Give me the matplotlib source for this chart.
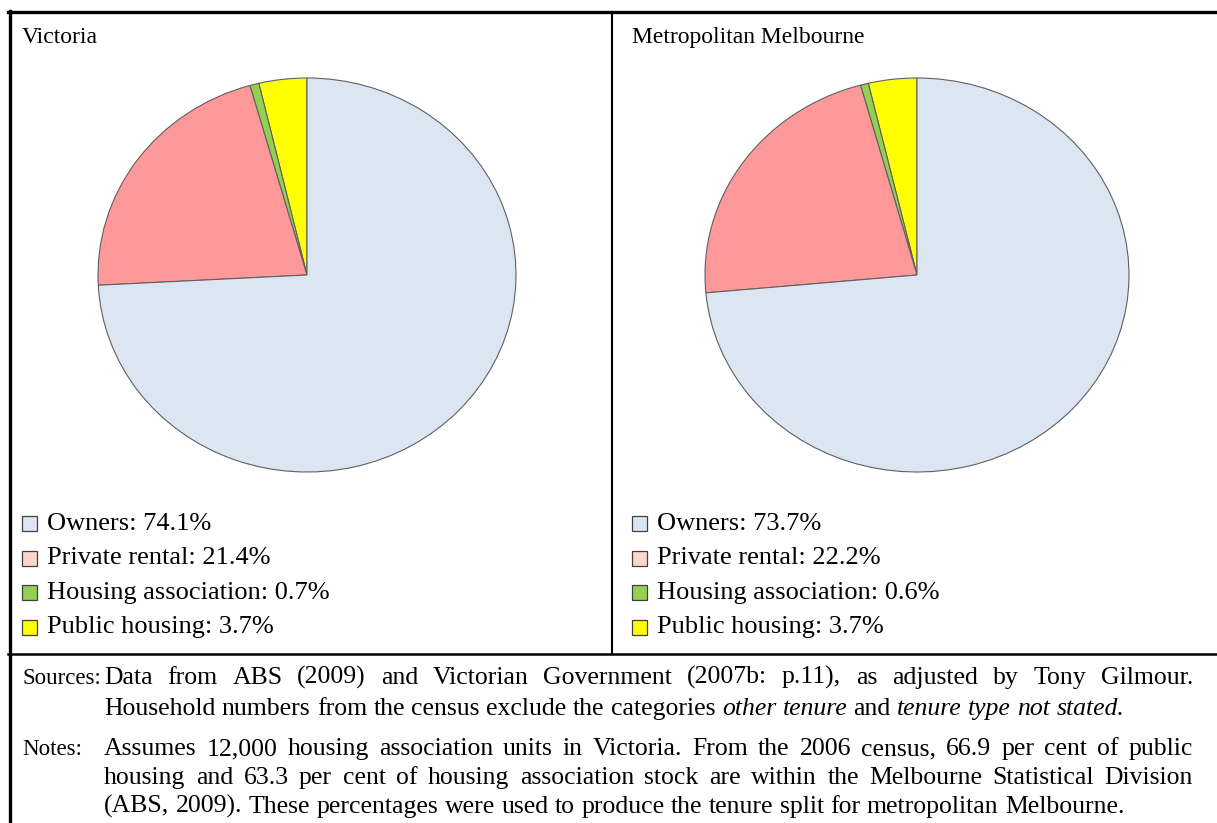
import matplotlib
matplotlib.use("Agg")
import matplotlib.pyplot as plt
from matplotlib.patches import Rectangle
from matplotlib.lines import Line2D

# housing tenure shares (per cent)
labels = ["Owners", "Private rental", "Housing association", "Public housing"]
vic_share = [74.1, 21.4, 0.7, 3.7]
metro_share = [73.7, 22.2, 0.6, 3.7]
panel_titles = ["Victoria", "Metropolitan Melbourne"]

pie_colors = ["#DCE6F2", "#FF9999", "#92D050", "#FFFF00"]
key_colors = ["#DCE6F2", "#FCD5D0", "#92D050", "#FFFF00"]

# notes text, words starting with _ are italic
sources_lines = [
    "Data from ABS (2009) and Victorian Government (2007b: p.11), as adjusted by Tony Gilmour.",
    "Household numbers from the census exclude the categories _other _tenure and _tenure _type _not _stated.",
]
notes_lines = [
    "Assumes 12,000 housing association units in Victoria. From the 2006 census, 66.9 per cent of public",
    "housing and 63.3 per cent of housing association stock are within the Melbourne Statistical Division",
    "(ABS, 2009). These percentages were used to produce the tenure split for metropolitan Melbourne.",
]

W, H = 1217, 823
SERIF = "Liberation Serif"
fig = plt.figure(figsize=(W / 100, H / 100), dpi=100)


def fx(x):
    return x / W


def fy(y):
    return 1 - y / H


def hline(x0, x1, y, lw):
    fig.add_artist(Line2D([fx(x0), fx(x1)], [fy(y), fy(y)], color="black", lw=lw))


def vline(x, y0, y1, lw):
    fig.add_artist(Line2D([fx(x), fx(x)], [fy(y0), fy(y1)], color="black", lw=lw))


# frame lines
div_y = 654
hline(8, W, 12, 2.4)
vline(9.5, 11, H, 2.4)
vline(612, 12, div_y, 1.5)
hline(8, W, div_y, 1.8)

# pies
centers = [(307, 275), (917, 275)]
radii = [(209, 197), (212, 197)]
for (cx, cy), (rx, ry), share in zip(centers, radii, [vic_share, metro_share]):
    ax = fig.add_axes([fx(cx - rx), fy(cy + ry), 2 * rx / W, 2 * ry / H])
    ax.pie(share[::-1], colors=pie_colors[::-1], startangle=90, counterclock=True,
           wedgeprops=dict(edgecolor="#606060", linewidth=0.8))
    ax.set_aspect("auto")
    ax.set_xlim(-1, 1)
    ax.set_ylim(-1, 1)
    ax.axis("off")

# panel titles and keys
for px, title, share in zip([22, 632], panel_titles, [vic_share, metro_share]):
    fig.text(fx(px), fy(43), title, fontsize=17, family=SERIF, va="baseline")
    for i, (lab, val, col) in enumerate(zip(labels, share, key_colors)):
        base = 530 + i * 34.5
        fig.add_artist(Rectangle((fx(px), fy(base + 1)), 15 / W, 15 / H, facecolor=col,
                                 edgecolor="#404040", lw=0.9))
        fig.text(fx(px + 25), fy(base), f"{lab}: {val}%", fontsize=19, family=SERIF, va="baseline")

renderer = fig.canvas.get_renderer()


def draw_line(line, x0, y, size, width=None):
    arts = []
    for w in line.split(" "):
        it = w.startswith("_")
        t = fig.text(fx(x0), fy(y), w.lstrip("_"), fontsize=size, family=SERIF,
                     style="italic" if it else "normal", va="baseline")
        arts.append(t)
    wid = [a.get_window_extent(renderer).width for a in arts]
    gap = size * 100 / 72 * 0.25
    if width is not None and len(arts) > 1:
        gap = (width - sum(wid)) / (len(arts) - 1)
    x = x0
    for a, w in zip(arts, wid):
        a.set_x(fx(x))
        x += w + gap


NS = 18.5
tx = 104
text_w = 1193 - tx
fig.text(fx(22), fy(684), "Sources:", fontsize=16.5, family=SERIF, va="baseline")
for k, line in enumerate(sources_lines):
    draw_line(line, tx, 684 + k * 31, NS, text_w if k < len(sources_lines) - 1 else None)
fig.text(fx(22), fy(755), "Notes:", fontsize=16.5, family=SERIF, va="baseline")
for k, line in enumerate(notes_lines):
    draw_line(line, tx, 755 + k * 29, NS, text_w if k < len(notes_lines) - 1 else None)

fig.savefig("out.png", dpi=100)
